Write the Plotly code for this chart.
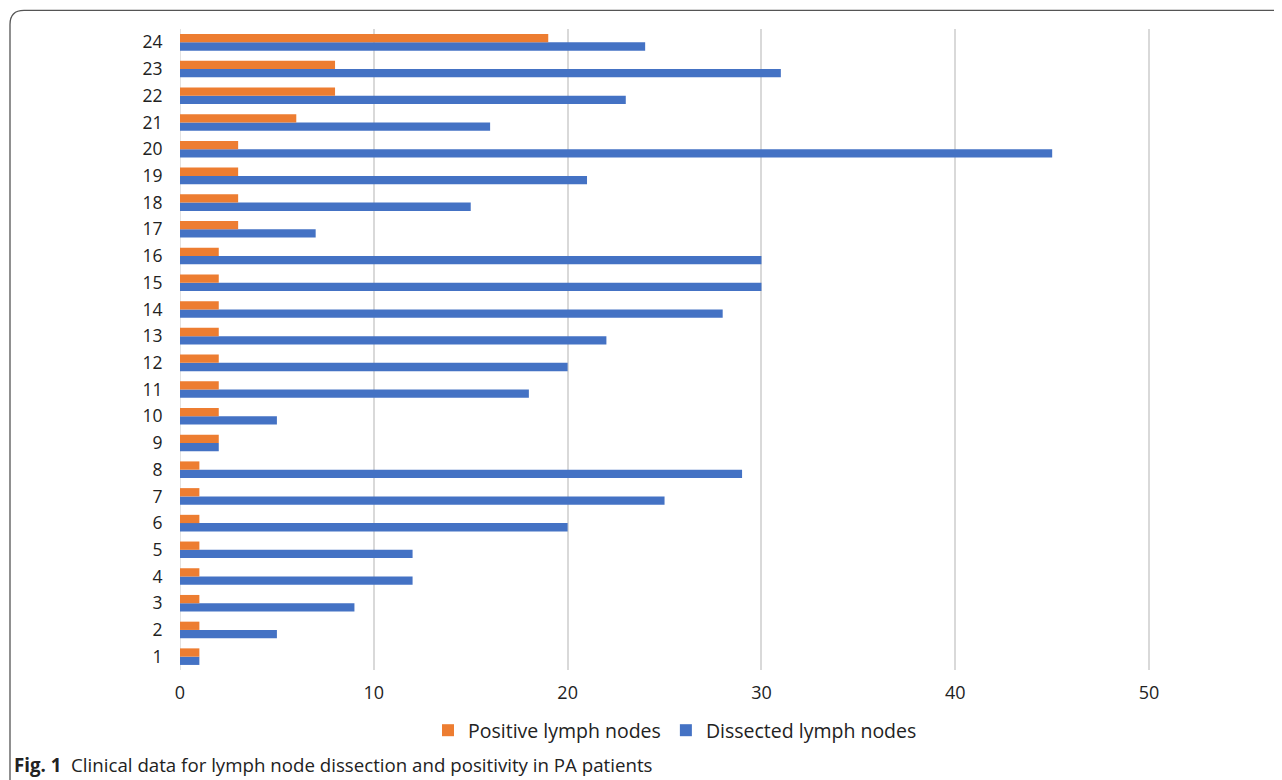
import plotly.graph_objects as go

categories = [str(i) for i in range(1, 25)]
positive = [1, 1, 1, 1, 1, 1, 1, 1, 2, 2, 2, 2, 2, 2, 2, 2, 3, 3, 3, 3, 6, 8, 8, 19]
dissected = [1, 5, 9, 12, 12, 20, 25, 29, 2, 5, 18, 20, 22, 28, 30, 30, 7, 15, 21, 45, 16, 23, 31, 24]
x_ticks = [0, 10, 20, 30, 40, 50]

OFF = 8  # page body margin
W, H = 1282 - OFF, 780 - OFF
# plot area in reference (screen) pixels
L, R = 180, 1246
T, B = 28.6, 670.4
pw, ph = R - L, B - T

def px(x):
    return (x - L) / pw

def py(y):
    return (B - y) / ph

fig = go.Figure()
fig.add_trace(go.Bar(y=categories, x=dissected, orientation="h", name="Dissected lymph nodes",
                     marker=dict(color="#4472C4", line=dict(width=0))))
fig.add_trace(go.Bar(y=categories, x=positive, orientation="h", name="Positive lymph nodes",
                     marker=dict(color="#ED7D31", line=dict(width=0))))

# rounded frame
r = 14
x0, y0 = 10, 10
x1, y1 = 1320, 820
path = (f"M {px(x0)},{py(y1)} L {px(x0)},{py(y0 + r)} "
        f"Q {px(x0)},{py(y0)} {px(x0 + r)},{py(y0)} "
        f"L {px(x1)},{py(y0)}")

shapes = [
    dict(type="path", path=path, xref="paper", yref="paper",
         line=dict(color="#555555", width=1.3), layer="above"),
    dict(type="line", xref="x", yref="paper", x0=0, x1=0, y0=0, y1=1,
         line=dict(color="#d9d9d9", width=1.5), layer="below"),
]

fig.add_annotation(x=px(12), y=py(765), xref="paper", yref="paper", xanchor="left", yanchor="middle",
                   text="<b>Fig. 1</b>  Clinical data for lymph node dissection and positivity in PA patients",
                   showarrow=False, font=dict(size=18.7, color="#222222", family="Open Sans"))

fig.update_layout(
    width=W, height=H,
    margin=dict(l=L - OFF, r=W - (R - OFF), t=T - OFF, b=H - (B - OFF), pad=0),
    paper_bgcolor="white", plot_bgcolor="white",
    barmode="group", bargap=0.38, bargroupgap=0,
    font=dict(family="Open Sans", color="#222222"),
    xaxis=dict(range=[0, 55], tickvals=x_ticks, showgrid=True, gridcolor="#d9d9d9", gridwidth=1.5,
               zeroline=False, showline=False, tickfont=dict(size=18, color="#222222"), ticks="outside",
               ticklen=6, tickcolor="rgba(0,0,0,0)", automargin=False),
    yaxis=dict(categoryorder="array", categoryarray=categories, range=[-0.5, 23.5], showgrid=False,
               zeroline=False, showline=False, tickfont=dict(size=17.5, color="#222222"), ticks="outside",
               ticklen=13, tickcolor="rgba(0,0,0,0)", automargin=False),
    legend=dict(orientation="h", x=px(675), xanchor="center", y=py(731), yanchor="middle",
                traceorder="reversed", font=dict(size=19.5, color="#222222"), itemwidth=30,
                bgcolor="rgba(0,0,0,0)"),
    shapes=shapes,
)

fig.write_html("out.html")
